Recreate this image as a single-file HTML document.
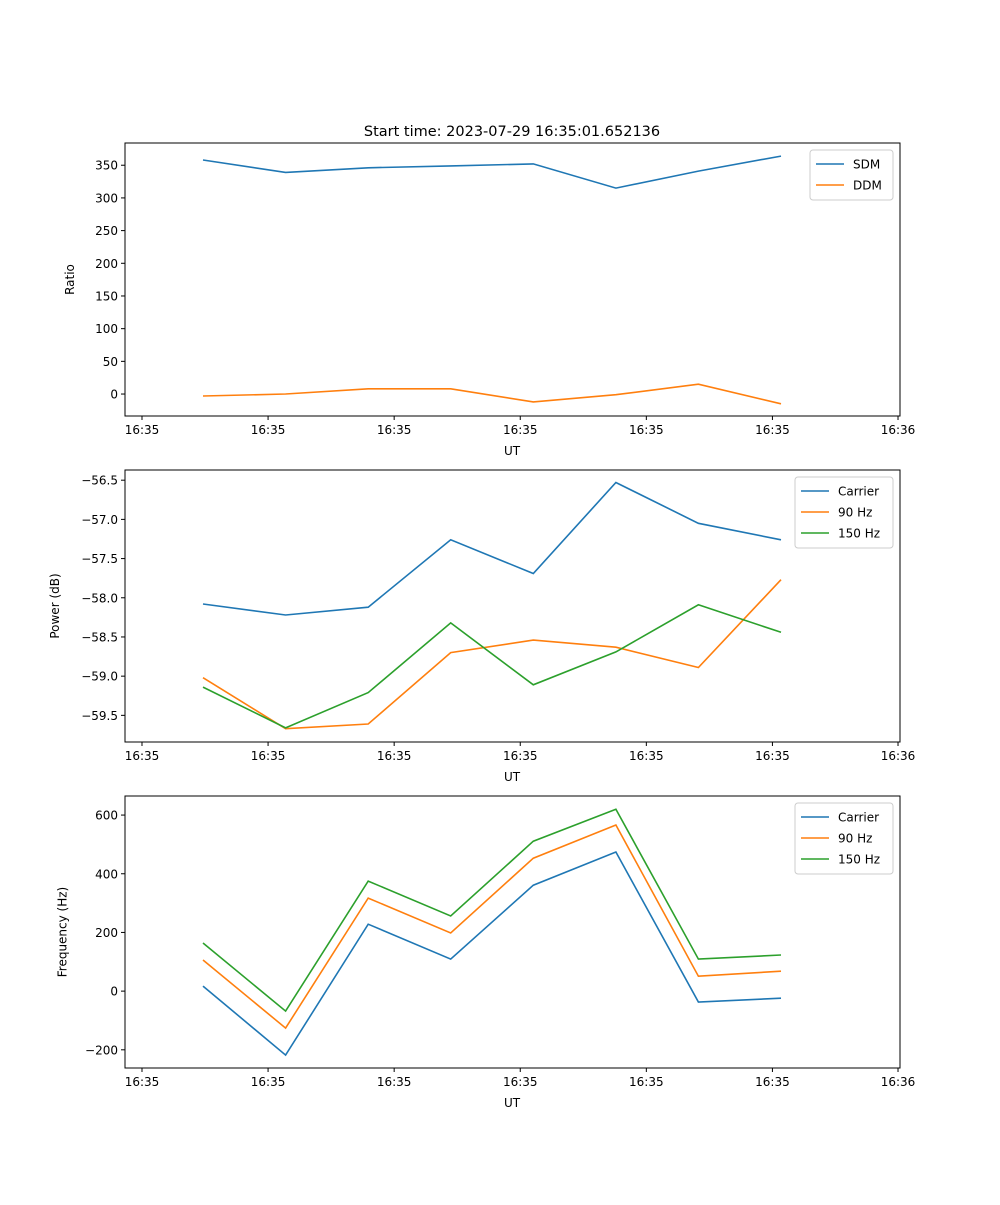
<!DOCTYPE html>
<html><head><meta charset="utf-8"><style>
body{margin:0;background:#fff}
svg{font-family:"DejaVu Sans","Liberation Sans",sans-serif}
</style></head><body>
<svg id="fig" width="1000" height="1200" xmlns="http://www.w3.org/2000/svg">
<text x="512" y="136" font-size="14.5" text-anchor="middle">Start time: 2023-07-29 16:35:01.652136</text>
</svg>
<script>
const xTickLabels = ["16:35","16:35","16:35","16:35","16:35","16:35","16:36"];
const ratioTicks = [0,50,100,150,200,250,300,350];
const sdm = [358,339,346,349,352,315,341,364];
const ddm = [-3,0,8,8,-12,-1,15,-15];
const powerTicks = [-59.5,-59.0,-58.5,-58.0,-57.5,-57.0,-56.5];
const powCarrier = [-58.08,-58.22,-58.12,-57.26,-57.69,-56.53,-57.05,-57.26];
const pow90 = [-59.02,-59.67,-59.61,-58.70,-58.54,-58.63,-58.89,-57.77];
const pow150 = [-59.14,-59.66,-59.21,-58.32,-59.11,-58.69,-58.09,-58.44];
const freqTicks = [-200,0,200,400,600];
const freqCarrier = [17,-218,228,109,361,474,-37,-24];
const freq90 = [106,-126,317,198,453,566,51,68];
const freq150 = [164,-68,375,256,511,620,109,123];

const NS="http://www.w3.org/2000/svg";
const svg=document.getElementById('fig');
function mk(tag,attrs,parent){const e=document.createElementNS(NS,tag);for(const k in attrs)e.setAttribute(k,attrs[k]);(parent||svg).appendChild(e);return e;}
const L=125,R=900;
const xmin=-0.9447, xmax=8.441;
function X(i){return L+(i-xmin)/(xmax-xmin)*(R-L);}
const tickIdx=[-0.739,0.788,2.315,3.842,5.369,6.896,8.417];
const C1="#1f77b4",C2="#ff7f0e",C3="#2ca02c";

function panel(name,top,bot,ymin,ymax,yticks,fmt,ylabel,series,legend){
  const g=mk('g',{});
  
  
  const Y=v=>bot-(v-ymin)/(ymax-ymin)*(bot-top);
  series.forEach(s=>{
    const pts=s.vals.map((v,i)=>X(i).toFixed(1)+','+Y(v).toFixed(1)).join(' ');
    const p=mk('polyline',{points:pts,fill:'none',stroke:s.color,'stroke-width':1.6},g);
    
    
  });
  const fr=mk('rect',{x:L,y:top,width:R-L,height:bot-top,fill:'none',stroke:'#000','stroke-width':1},g);
  
  
  tickIdx.forEach((t,k)=>{
    const x=X(t);
    mk('line',{x1:x,x2:x,y1:bot,y2:bot+4,stroke:'#000'},g);
    const tx=mk('text',{x:x,y:bot+18,'font-size':12,'text-anchor':'middle'},g);
    tx.textContent=xTickLabels[k];
    
    
  });
  const xl=mk('text',{x:512,y:bot+39,'font-size':12,'text-anchor':'middle'},g);
  xl.textContent='UT';
  
  
  let maxw=0;
  yticks.forEach(v=>{
    const y=Y(v);
    mk('line',{x1:L-4,x2:L,y1:y,y2:y,stroke:'#000'},g);
    const s=fmt(v);
    maxw=Math.max(maxw,s.length);
    const tx=mk('text',{x:L-7,y:y+4.5,'font-size':12,'text-anchor':'end'},g);
    tx.textContent=s;
    
    
  });
  const lx=L-28-maxw*7.6;
  const yl=mk('text',{x:lx,y:(top+bot)/2,'font-size':12,'text-anchor':'middle',transform:`rotate(-90 ${lx} ${(top+bot)/2})`},g);
  yl.textContent=ylabel;
  
  
  const lg=mk('g',{},g);
  
  
  const lw=legend.w, lh=8+series.length*21;
  mk('rect',{x:R-7-lw,y:top+7,width:lw,height:lh,rx:3,fill:'#fff',stroke:'#ccc','fill-opacity':0.8},lg);
  series.forEach((s,i)=>{
    const yy=top+7+14+i*21;
    mk('line',{x1:R-7-lw+6,x2:R-7-lw+34,y1:yy,y2:yy,stroke:s.color,'stroke-width':1.6},lg);
    const t=mk('text',{x:R-7-lw+43,y:yy+4.5,'font-size':12},lg);
    t.textContent=s.label;
    
    
  });
}
const minus=s=>s.replace('-','\u2212');
panel('ratio-panel',143,416,-33.6,384,ratioTicks,v=>minus(String(v)),'Ratio',
  [{id:'sdm',label:'SDM',vals:sdm,color:C1},{id:'ddm',label:'DDM',vals:ddm,color:C2}],{w:83});
panel('power-panel',470,742,-59.84,-56.37,powerTicks,v=>minus(v.toFixed(1)),'Power (dB)',
  [{id:'power-carrier',label:'Carrier',vals:powCarrier,color:C1},{id:'power-90hz',label:'90 Hz',vals:pow90,color:C2},{id:'power-150hz',label:'150 Hz',vals:pow150,color:C3}],{w:98});
panel('frequency-panel',796,1068,-262,665,freqTicks,v=>minus(String(v)),'Frequency (Hz)',
  [{id:'freq-carrier',label:'Carrier',vals:freqCarrier,color:C1},{id:'freq-90hz',label:'90 Hz',vals:freq90,color:C2},{id:'freq-150hz',label:'150 Hz',vals:freq150,color:C3}],{w:98});
</script>
</body></html>
